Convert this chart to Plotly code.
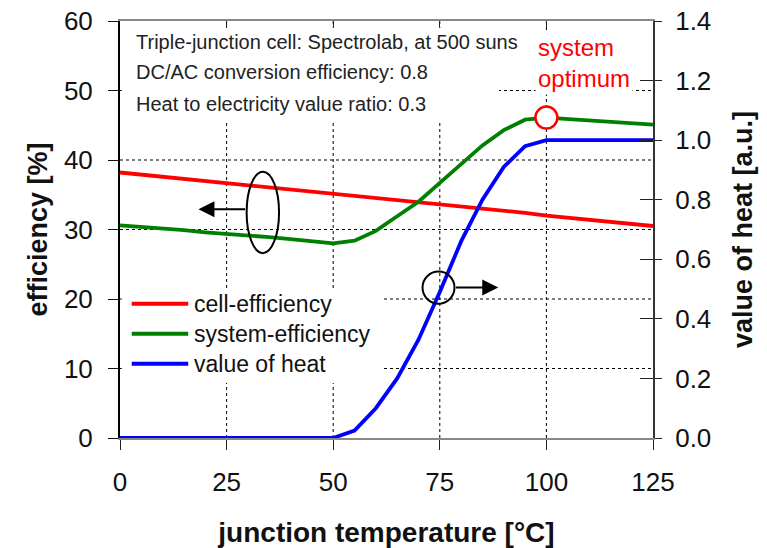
import plotly.graph_objects as go

# Junction temperature [°C]
temperature = [0, 5, 10, 15, 20, 25, 30, 35, 40, 45, 50, 55, 60, 65, 70,
               75, 80, 85, 90, 95, 100, 105, 110, 115, 120, 125]
# Efficiencies [%] (left axis)
cell_efficiency = [38.2, 37.9, 37.6, 37.3, 37.0, 36.7, 36.4, 36.0, 35.7, 35.4,
                   35.1, 34.8, 34.5, 34.2, 33.9, 33.6, 33.3, 33.0, 32.7, 32.4,
                   32.0, 31.7, 31.4, 31.1, 30.8, 30.5]
system_efficiency = [30.6, 30.4, 30.1, 29.9, 29.6, 29.4, 29.1, 28.9, 28.6, 28.3,
                     28.0, 28.4, 29.8, 31.9, 34.0, 36.7, 39.4, 42.1, 44.3, 45.8,
                     46.1, 45.9, 45.7, 45.5, 45.3, 45.1]
# Value of heat [a.u.] (right axis)
value_of_heat = [0, 0, 0, 0, 0, 0, 0, 0, 0, 0, 0, 0.025, 0.10, 0.20, 0.33,
                 0.49, 0.66, 0.80, 0.91, 0.98, 1.0, 1.0, 1.0, 1.0, 1.0, 1.0]

x_ticks = [0, 25, 50, 75, 100, 125]
left_ticks = [0, 10, 20, 30, 40, 50, 60]
right_ticks = [0.0, 0.2, 0.4, 0.6, 0.8, 1.0, 1.2, 1.4]

series_names = ["cell-efficiency", "system-efficiency", "value of heat"]
series_colors = ["#ff0000", "#008000", "#0000ff"]

info_lines = ["Triple-junction cell: Spectrolab, at 500 suns",
              "DC/AC conversion efficiency: 0.8",
              "Heat to electricity value ratio: 0.3"]

FONT = "Liberation Sans, Arial, sans-serif"
LINE_W = 3.8

fig = go.Figure()

fig.add_trace(go.Scatter(x=temperature, y=cell_efficiency, mode="lines",
                         line=dict(color=series_colors[0], width=LINE_W),
                         name=series_names[0], yaxis="y"))
fig.add_trace(go.Scatter(x=temperature, y=system_efficiency, mode="lines",
                         line=dict(color=series_colors[1], width=LINE_W),
                         name=series_names[1], yaxis="y"))
fig.add_trace(go.Scatter(x=temperature, y=value_of_heat, mode="lines",
                         line=dict(color=series_colors[2], width=LINE_W),
                         name=series_names[2], yaxis="y2"))

# System optimum: maximum of the system efficiency
i_opt = max(range(len(system_efficiency)), key=lambda i: system_efficiency[i])
fig.add_trace(go.Scatter(x=[temperature[i_opt]], y=[system_efficiency[i_opt]],
                         mode="markers", yaxis="y",
                         marker=dict(size=22, color="white",
                                     line=dict(color="#ff0000", width=2.5)),
                         hoverinfo="skip"))

# helper traces so the extra tick-only axes get drawn
fig.add_trace(go.Scatter(x=[0], y=[0], xaxis="x2", yaxis="y", mode="markers",
                         marker=dict(opacity=0), hoverinfo="skip"))
fig.add_trace(go.Scatter(x=[0], y=[0], xaxis="x", yaxis="y3", mode="markers",
                         marker=dict(opacity=0), hoverinfo="skip"))

tickfont = dict(family=FONT, size=26, color="#111111")
titlefont = dict(family=FONT, size=27, color="#111111", weight="bold")

fig.update_layout(
    width=767, height=548,
    margin=dict(l=120, r=114, t=21, b=110),
    paper_bgcolor="white", plot_bgcolor="white",
    showlegend=False,
    font=dict(family=FONT),
    xaxis=dict(range=[0, 125], tickvals=x_ticks, ticks="outside", ticklen=10,
               tickcolor="#222222", showline=True, linecolor="#888888",
               linewidth=2, mirror=True, zeroline=False, showgrid=False,
               tickfont=tickfont, ticklabelstandoff=10, automargin=False,
               title=dict(text="junction temperature [°C]",
                          font=dict(family=FONT, size=28, color="#111111",
                                    weight="bold"),
                          standoff=30)),
    xaxis2=dict(range=[0, 125], tickvals=x_ticks, overlaying="x", side="top",
                anchor="y", ticks="inside", ticklen=6, tickcolor="#222222",
                showticklabels=False, showgrid=False, zeroline=False,
                showline=False),
    yaxis=dict(range=[0, 60], tickvals=left_ticks, ticks="outside", ticklen=10,
               tickcolor="#111111", showline=True, linecolor="#000000",
               linewidth=2, zeroline=False, showgrid=False, tickfont=tickfont,
               ticklabelstandoff=10, automargin=False,
               title=dict(text="efficiency [%]", font=titlefont, standoff=8)),
    yaxis2=dict(range=[0, 1.4], tickvals=right_ticks,
                ticktext=[f"{v:.1f}" for v in right_ticks],
                overlaying="y", side="right", anchor="x",
                ticks="outside", ticklen=7, tickcolor="#222222",
                showline=True, linecolor="#333333", linewidth=2,
                showgrid=False, zeroline=False, tickfont=tickfont,
                ticklabelstandoff=8, automargin=False,
                title=dict(text="value of heat [a.u.]", font=titlefont,
                           standoff=23)),
    yaxis3=dict(range=[0, 1.4], tickvals=right_ticks, overlaying="y",
                side="right", anchor="x", ticks="inside", ticklen=13,
                tickcolor="#222222", showticklabels=False, showgrid=False,
                zeroline=False, showline=False),
)

shapes = []
grid_line = dict(color="#000000", width=1, dash="3px,3px")
# dashed grid at the inner tick positions
for xv in x_ticks[1:-1]:
    shapes.append(dict(type="line", xref="x", yref="y", x0=xv, x1=xv,
                       y0=left_ticks[0], y1=left_ticks[-1], line=grid_line,
                       layer="below"))
for yv in left_ticks[1:-1]:
    shapes.append(dict(type="line", xref="x", yref="y", x0=x_ticks[0],
                       x1=x_ticks[-1], y0=yv, y1=yv, line=grid_line,
                       layer="below"))
# white panels behind the info text and the legend (hide the grid there)
shapes.append(dict(type="rect", xref="x", yref="y", x0=0.4, x1=88.9,
                   y0=45.4, y1=59.0, fillcolor="white", line=dict(width=0),
                   layer="below"))
shapes.append(dict(type="rect", xref="x", yref="y", x0=0.4, x1=61.4,
                   y0=7.9, y1=21.6, fillcolor="white", line=dict(width=0),
                   layer="below"))
# ellipse grouping the two efficiency curves
shapes.append(dict(type="circle", xref="x", yref="y", x0=29.7, x1=37.3,
                   y0=26.6, y1=38.3, line=dict(color="black", width=2)))
# circle around the value-of-heat curve
shapes.append(dict(type="circle", xref="x", yref="y2", x0=70.95, x1=78.45,
                   y0=0.451, y1=0.559, line=dict(color="black", width=2)))

# legend samples
legend_y = [0.322, 0.25, 0.178]
for yy, col in zip(legend_y, series_colors):
    shapes.append(dict(type="line", xref="paper", yref="paper", x0=0.022,
                       x1=0.128, y0=yy, y1=yy,
                       line=dict(color=col, width=LINE_W)))
fig.update_layout(shapes=shapes)

annotations = []
for yy, name in zip(legend_y, series_names):
    annotations.append(dict(xref="paper", yref="paper", x=0.136, y=yy,
                            xanchor="left", yanchor="middle", text=name,
                            showarrow=False,
                            font=dict(family=FONT, size=23, color="#111111")))
for yy, line in zip([0.950, 0.877, 0.801], info_lines):
    annotations.append(dict(xref="paper", yref="paper", x=0.027, y=yy,
                            xanchor="left", yanchor="middle", text=line,
                            showarrow=False,
                            font=dict(family=FONT, size=20, color="#222222")))
annotations.append(dict(xref="paper", yref="paper", x=0.779, y=0.900,
                        xanchor="left", yanchor="middle", align="left",
                        text="system<br>optimum", showarrow=False,
                        bgcolor="white", borderpad=2,
                        font=dict(family=FONT, size=24, color="#ff0000")))
# arrows pointing to the relevant axis
annotations.append(dict(xref="x", yref="y", x=18.4, y=32.9, axref="x",
                        ayref="y", ax=29.7, ay=32.9, text="", showarrow=True,
                        arrowhead=2, arrowsize=1.6, arrowwidth=2,
                        arrowcolor="black"))
annotations.append(dict(xref="x", yref="y2", x=88.7, y=0.505, axref="x",
                        ayref="y2", ax=78.45, ay=0.505, text="",
                        showarrow=True, arrowhead=2, arrowsize=1.6,
                        arrowwidth=2, arrowcolor="black"))
fig.update_layout(annotations=annotations)

fig.write_html("out.html")
